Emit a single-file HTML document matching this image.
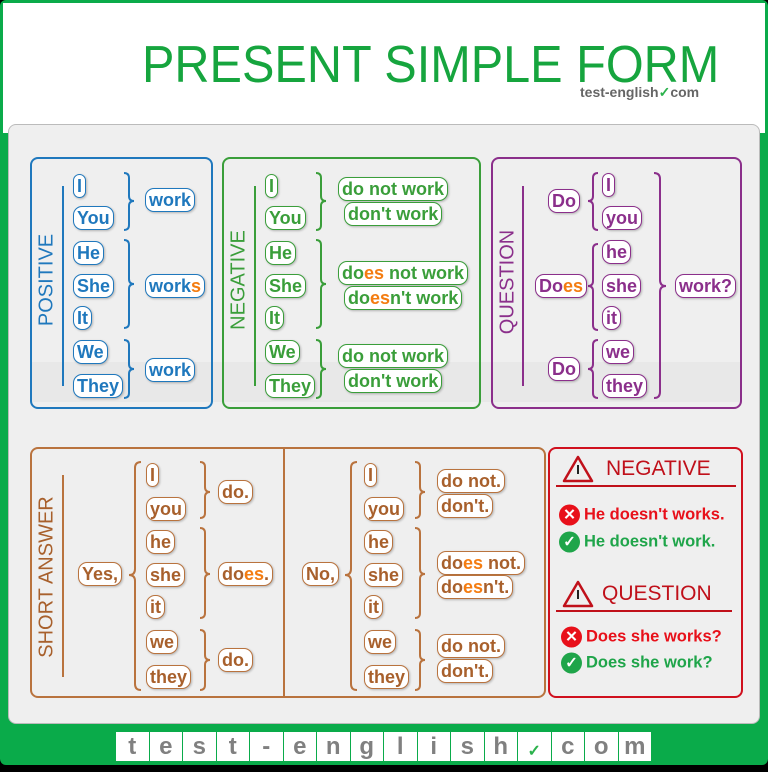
<!DOCTYPE html>
<html><head><meta charset="utf-8"><style>
*{margin:0;padding:0;box-sizing:border-box}
body{width:768px;height:768px;position:relative;overflow:hidden;background:#000;font-family:"Liberation Sans",sans-serif}
.a{position:absolute}
.p{position:absolute;transform:translateY(-50%);border:1.5px solid;border-radius:9px;background:#fff;padding:0 3px;font-weight:bold;font-size:18px;line-height:22px;white-space:nowrap;box-shadow:1px 1px 2px rgba(0,0,0,.25)}
.b{color:#1f78bd;border-color:#1f78bd}
.g{color:#3a9e3a;border-color:#3a9e3a}
.u{color:#8b2f8b;border-color:#8b2f8b}
.o{color:#a8602c;border-color:#b9733e}
.or{color:#f47c10}
.box{position:absolute;border:2px solid;border-radius:8px}
.vl{position:absolute;font-size:20px;transform:translate(-50%,-50%) rotate(-90deg);white-space:nowrap}
.wl{position:absolute;font-weight:bold;font-size:16.5px;white-space:nowrap;transform:translateY(-50%)}
.ic{position:absolute;width:21px;height:21px;border-radius:50%;color:#fff;font-weight:bold;font-size:15px;text-align:center;line-height:21px;transform:translateY(-50%)}
.lt b{width:32.5px;height:29px;background:#fff;color:#808080;font-size:24px;text-align:center;line-height:29px}
</style></head><body>
<div class="a" style="left:0;top:0;width:768px;height:765px;background:#0aab4a;border-radius:6px"></div>
<div class="a" style="left:3px;top:3px;width:762px;height:130px;background:#fff"></div>
<div class="a" style="left:142px;top:35px;font-size:52px;color:#16a53e;transform:scaleX(0.935);transform-origin:left">PRESENT SIMPLE FORM</div>
<div class="a" style="left:580px;top:84px;font-size:14px;font-weight:bold;color:#666">test-english<span style="color:#2bb24c">✓</span>com</div>
<div class="a" style="left:8px;top:124px;width:752px;height:600px;background:#efefef;border:1px solid #bbb;border-radius:8px"></div>
<div class="a" style="left:30px;top:362px;width:712px;height:40px;background:rgba(215,215,215,.3)"></div>
<div class="a lt" style="left:116px;top:732px;display:flex;gap:1px">
<b>t</b><b>e</b><b>s</b><b>t</b><b>-</b><b>e</b><b>n</b><b>g</b><b>l</b><b>i</b><b>s</b><b>h</b><b style="color:#2bb24c;font-size:16px;line-height:40px">✓</b><b>c</b><b>o</b><b>m</b>
</div>

<div class="box" style="left:30px;top:157px;width:183px;height:252px;border-color:#1f78bd"></div>
<div class="box" style="left:222px;top:157px;width:259px;height:252px;border-color:#3a9e3a"></div>
<div class="box" style="left:491px;top:157px;width:251px;height:252px;border-color:#8b2f8b"></div>
<div class="box" style="left:30px;top:447px;width:516px;height:251px;border-color:#b9733e"></div>
<div class="a" style="left:283px;top:448px;width:2px;height:249px;background:#b9733e"></div>
<div class="box" style="left:548px;top:447px;width:195px;height:251px;border-color:#d0101e"></div>

<svg class="a" style="left:0;top:0" width="768" height="768" fill="none" stroke-width="2">
<g stroke="#1f78bd"><line x1="63" y1="186" x2="63" y2="386"/>
<path d="M124 173q5 0 5 5V196q0 5 5 5q-5 0-5 5V225q0 5-5 5"/>
<path d="M124 240q5 0 5 5V279q0 5 5 5q-5 0-5 5V323q0 5-5 5"/>
<path d="M124 340q5 0 5 5V364q0 5 5 5q-5 0-5 5V393q0 5-5 5"/></g>
<g stroke="#3a9e3a"><line x1="255" y1="186" x2="255" y2="386"/>
<path d="M316 173q5 0 5 5V196q0 5 5 5q-5 0-5 5V225q0 5-5 5"/>
<path d="M316 240q5 0 5 5V279q0 5 5 5q-5 0-5 5V323q0 5-5 5"/>
<path d="M316 340q5 0 5 5V364q0 5 5 5q-5 0-5 5V393q0 5-5 5"/></g>
<g stroke="#8b2f8b"><line x1="523" y1="186" x2="523" y2="386"/>
<path d="M598 173q-5 0-5 5V196q0 5-5 5q5 0 5 5V225q0 5 5 5"/>
<path d="M598 244q-5 0-5 5V281q0 5-5 5q5 0 5 5V325q0 5 5 5"/>
<path d="M598 340q-5 0-5 5V364q0 5-5 5q5 0 5 5V393q0 5 5 5"/>
<path d="M654 173q6 0 6 6V280q0 6 6 6q-6 0-6 6V392q0 6-6 6"/></g>
<g stroke="#b9733e"><line x1="63" y1="475" x2="63" y2="677"/>
<path d="M141 462q-6 0-6 6V569q0 6-6 6q6 0 6 6V684q0 6 6 6"/>
<path d="M200 462q5 0 5 5V487q0 5 5 5q-5 0-5 5V513q0 5-5 5"/>
<path d="M200 528q5 0 5 5V569q0 5 5 5q-5 0-5 5V613q0 5-5 5"/>
<path d="M200 630q5 0 5 5V655q0 5 5 5q-5 0-5 5V685q0 5-5 5"/>
<path d="M357 462q-6 0-6 6V569q0 6-6 6q6 0 6 6V684q0 6 6 6"/>
<path d="M415 462q5 0 5 5V487q0 5 5 5q-5 0-5 5V513q0 5-5 5"/>
<path d="M415 528q5 0 5 5V569q0 5 5 5q-5 0-5 5V613q0 5-5 5"/>
<path d="M415 630q5 0 5 5V655q0 5 5 5q-5 0-5 5V685q0 5-5 5"/></g>
<g stroke="#c0101a"><line x1="556" y1="486" x2="736" y2="486"/><line x1="556" y1="611" x2="732" y2="611"/>
<path d="M578 457L592 481H564Z" stroke-width="2.5" stroke-linejoin="round"/>
<path d="M578 582L592 606H564Z" stroke-width="2.5" stroke-linejoin="round"/>
<line x1="578" y1="465" x2="578" y2="474" stroke="#222"/><line x1="578" y1="590" x2="578" y2="599" stroke="#222"/></g>
</svg>

<div class="vl" style="left:47px;top:280px;color:#1f78bd">POSITIVE</div>
<div class="vl" style="left:239px;top:280px;color:#3a9e3a">NEGATIVE</div>
<div class="vl" style="left:508px;top:282px;color:#8b2f8b">QUESTION</div>
<div class="vl" style="left:47px;top:577px;color:#a8602c">SHORT ANSWER</div>

<div class="p b" style="left:73px;top:186px">I</div>
<div class="p b" style="left:73px;top:218px">You</div>
<div class="p b" style="left:73px;top:253px">He</div>
<div class="p b" style="left:73px;top:286px">She</div>
<div class="p b" style="left:73px;top:318px">It</div>
<div class="p b" style="left:73px;top:352px">We</div>
<div class="p b" style="left:73px;top:386px">They</div>
<div class="p b" style="left:145px;top:200px">work</div>
<div class="p b" style="left:145px;top:286px">work<span class="or">s</span></div>
<div class="p b" style="left:145px;top:370px">work</div>

<div class="p g" style="left:265px;top:186px">I</div>
<div class="p g" style="left:265px;top:218px">You</div>
<div class="p g" style="left:265px;top:253px">He</div>
<div class="p g" style="left:265px;top:286px">She</div>
<div class="p g" style="left:265px;top:318px">It</div>
<div class="p g" style="left:265px;top:352px">We</div>
<div class="p g" style="left:265px;top:386px">They</div>
<div class="p g" style="left:338px;top:189px">do not work</div>
<div class="p g" style="left:344px;top:214px">don't work</div>
<div class="p g" style="left:338px;top:273px">do<span class="or">es</span> not work</div>
<div class="p g" style="left:344px;top:298px">do<span class="or">es</span>n't work</div>
<div class="p g" style="left:338px;top:356px">do not work</div>
<div class="p g" style="left:344px;top:381px">don't work</div>

<div class="p u" style="left:548px;top:201px">Do</div>
<div class="p u" style="left:535px;top:286px">Do<span class="or">es</span></div>
<div class="p u" style="left:548px;top:369px">Do</div>
<div class="p u" style="left:602px;top:185px">I</div>
<div class="p u" style="left:602px;top:218px">you</div>
<div class="p u" style="left:602px;top:252px">he</div>
<div class="p u" style="left:602px;top:286px">she</div>
<div class="p u" style="left:602px;top:318px">it</div>
<div class="p u" style="left:602px;top:352px">we</div>
<div class="p u" style="left:602px;top:386px">they</div>
<div class="p u" style="left:675px;top:286px">work?</div>

<div class="p o" style="left:78px;top:574px">Yes,</div>
<div class="p o" style="left:146px;top:475px">I</div>
<div class="p o" style="left:146px;top:509px">you</div>
<div class="p o" style="left:146px;top:542px">he</div>
<div class="p o" style="left:146px;top:575px">she</div>
<div class="p o" style="left:146px;top:607px">it</div>
<div class="p o" style="left:146px;top:642px">we</div>
<div class="p o" style="left:146px;top:677px">they</div>
<div class="p o" style="left:218px;top:492px">do.</div>
<div class="p o" style="left:218px;top:574px">do<span class="or">es</span>.</div>
<div class="p o" style="left:218px;top:660px">do.</div>
<div class="p o" style="left:302px;top:574px">No,</div>
<div class="p o" style="left:364px;top:475px">I</div>
<div class="p o" style="left:364px;top:509px">you</div>
<div class="p o" style="left:364px;top:542px">he</div>
<div class="p o" style="left:364px;top:575px">she</div>
<div class="p o" style="left:364px;top:607px">it</div>
<div class="p o" style="left:364px;top:642px">we</div>
<div class="p o" style="left:364px;top:677px">they</div>
<div class="p o" style="left:437px;top:481px">do not.</div>
<div class="p o" style="left:437px;top:506px">don't.</div>
<div class="p o" style="left:437px;top:563px">do<span class="or">es</span> not.</div>
<div class="p o" style="left:437px;top:587px">do<span class="or">es</span>n't.</div>
<div class="p o" style="left:437px;top:646px">do not.</div>
<div class="p o" style="left:437px;top:671px">don't.</div>

<div class="a" style="left:606px;top:457px;font-size:21px;color:#c0101a">NEGATIVE</div>
<div class="a" style="left:602px;top:582px;font-size:21px;color:#c0101a">QUESTION</div>
<div class="ic" style="left:559px;top:515px;background:#e8101a">✕</div>
<div class="wl" style="left:584px;top:515px;color:#e8101a">He doesn't works.</div>
<div class="ic" style="left:559px;top:542px;background:#1fa54a">✓</div>
<div class="wl" style="left:584px;top:542px;color:#1fa54a">He doesn't work.</div>
<div class="ic" style="left:561px;top:637px;background:#e8101a">✕</div>
<div class="wl" style="left:586px;top:637px;color:#e8101a">Does she works?</div>
<div class="ic" style="left:561px;top:663px;background:#1fa54a">✓</div>
<div class="wl" style="left:586px;top:663px;color:#1fa54a">Does she work?</div>
</body></html>
